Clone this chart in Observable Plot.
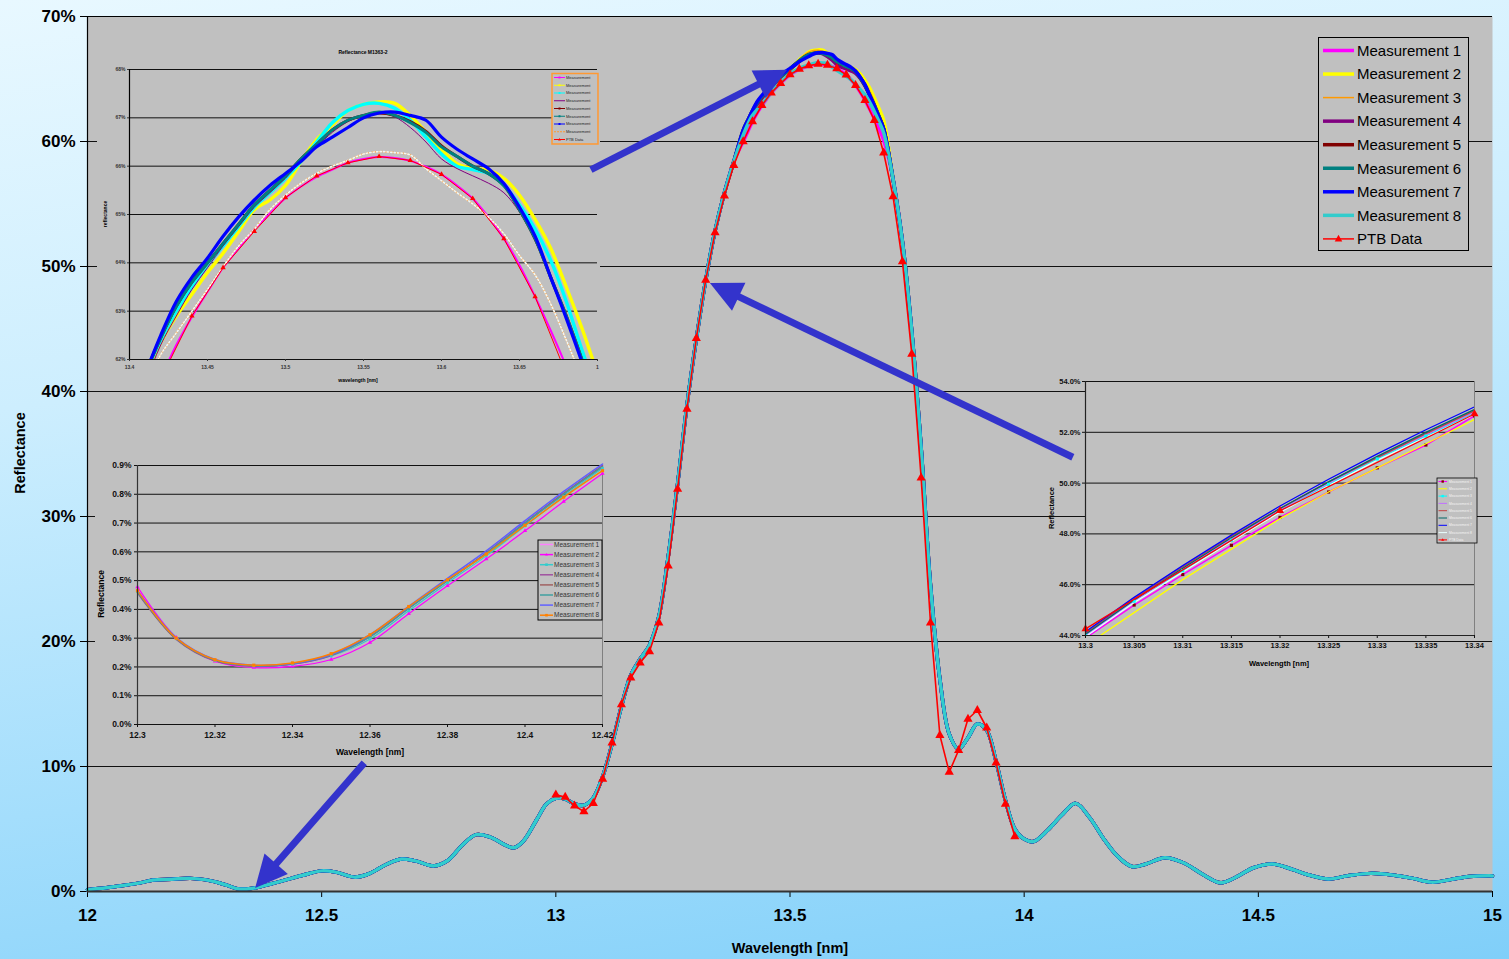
<!DOCTYPE html>
<html><head><meta charset="utf-8">
<script src="https://cdn.jsdelivr.net/npm/d3@7"></script>
<script src="https://cdn.jsdelivr.net/npm/@observablehq/plot@0.6"></script>
<style>
body{margin:0;}
#wrap{position:relative;width:1509px;height:959px;overflow:hidden;background:linear-gradient(172deg,#e8f8ff 0%,#cdeefe 35%,#a4defc 70%,#80cff9 100%);}
.abs{position:absolute;line-height:0;}
</style></head><body><div id="wrap"></div>
<script>
// ---------------- DATA ----------------
const xTicksMain = [12, 12.5, 13, 13.5, 14, 14.5, 15];
const yTicksMain = [0, 10, 20, 30, 40, 50, 60, 70];
const mainNames = ["Measurement 1","Measurement 2","Measurement 3","Measurement 4","Measurement 5","Measurement 6","Measurement 7","Measurement 8"];
const ptbName = "PTB Data";

// common part of all measurements (wavelength nm, reflectance %)
const wlLow = [12.00,12.04,12.08,12.12,12.14,12.18,12.22,12.25,12.28,12.30,12.32,12.34,12.36,12.38,12.40,12.42,12.46,12.50,12.53,12.57,12.60,12.64,12.67,12.70,12.74,12.77,12.80,12.83,12.86,12.89,12.91,12.93,12.96,12.98,13.00,13.02,13.04,13.06,13.08,13.10,13.12,13.14,13.16,13.18,13.20,13.22,13.24,13.26,13.28,13.30,13.32,13.34,13.36,13.38];
const reflLow = [0.15,0.3,0.5,0.75,0.92,0.98,1.05,0.95,0.7,0.47,0.22,0.2,0.3,0.49,0.69,0.89,1.3,1.65,1.55,1.15,1.4,2.2,2.6,2.45,2.05,2.5,3.7,4.55,4.35,3.75,3.5,4.0,5.8,7.0,7.45,7.4,7.0,6.9,7.5,9.2,11.8,14.8,17.3,18.6,19.7,22.0,26.8,32.6,38.9,44.2,48.9,52.85,55.9,58.4];

// peak region, per measurement
const wlPeak = [13.40,13.41,13.42,13.43,13.44,13.45,13.46,13.47,13.48,13.49,13.50,13.51,13.52,13.53,13.54,13.55,13.56,13.57,13.58,13.59,13.60,13.61,13.62,13.63,13.64,13.65,13.66,13.67,13.68,13.69,13.70];
const m1Peak = [60.0,60.8,61.6,62.3,62.88,63.4,63.9,64.3,64.69,65.02,65.34,65.58,65.78,65.93,66.07,66.15,66.19,66.17,66.11,65.99,65.83,65.6,65.33,64.95,64.5,63.95,63.3,62.6,61.85,61.0,60.1];
const m2Peak = [60.8,61.6,62.35,62.9,63.35,63.8,64.2,64.65,65.1,65.3,65.6,66.1,66.55,66.85,67.15,67.28,67.33,67.3,67.05,66.7,66.35,66.05,65.95,65.92,65.75,65.4,64.9,64.3,63.5,62.65,61.7];
const m3Peak = [60.9,61.7,62.4,63.0,63.5,63.95,64.35,64.75,65.15,65.45,65.75,66.1,66.5,66.9,67.15,67.28,67.3,67.2,66.95,66.6,66.25,66.0,65.93,65.85,65.6,65.2,64.7,64.05,63.2,62.2,61.3];
const m4Peak = [60.7,61.5,62.3,62.9,63.45,63.9,64.35,64.75,65.15,65.45,65.75,66.1,66.4,66.7,66.92,67.05,67.1,67.02,66.8,66.5,66.15,65.95,65.8,65.65,65.45,65.05,64.45,63.7,62.85,61.95,61.0];
const m5Peak = [60.9,61.7,62.45,63.1,63.6,64.0,64.4,64.8,65.2,65.5,65.8,66.15,66.45,66.75,66.95,67.05,67.1,67.05,66.92,66.72,66.42,66.2,66.0,65.85,65.6,65.1,64.5,63.7,62.9,62.0,61.0];
const m6Peak = [60.9,61.7,62.45,63.1,63.6,64.0,64.4,64.8,65.2,65.5,65.8,66.15,66.45,66.75,66.95,67.05,67.12,67.05,66.9,66.7,66.4,66.2,66.0,65.85,65.6,65.1,64.5,63.7,62.9,62.0,61.0];
const m7Peak = [60.9,61.7,62.5,63.2,63.7,64.1,64.55,64.95,65.3,65.6,65.85,66.1,66.4,66.6,66.8,67.0,67.1,67.12,67.05,66.95,66.6,66.35,66.15,65.95,65.64,65.15,64.55,63.7,62.85,61.95,61.0];
const m8Peak = [60.5,61.4,62.1,62.55,63.0,63.45,63.92,64.35,64.7,65.1,65.4,65.65,65.85,66.0,66.12,66.25,66.3,66.28,66.23,65.95,65.7,65.45,65.22,64.95,64.6,64.15,63.75,63.15,62.4,61.6,60.7];

// common tail
const wlHigh = [13.72,13.74,13.76,13.78,13.80,13.82,13.84,13.86,13.88,13.90,13.92,13.94,13.96,13.98,14.00,14.02,14.05,14.08,14.11,14.14,14.17,14.20,14.23,14.26,14.30,14.34,14.38,14.42,14.45,14.49,14.53,14.57,14.61,14.65,14.69,14.74,14.79,14.83,14.87,14.91,14.95,15.00];
const reflHigh = [57.0,52.0,44.8,35.5,24.5,17.0,12.6,11.4,12.3,13.4,12.9,10.4,7.3,5.0,4.2,4.0,4.9,6.1,7.05,5.9,4.2,2.8,2.0,2.2,2.7,2.3,1.4,0.7,1.1,1.9,2.2,1.8,1.3,1.0,1.25,1.45,1.3,1.05,0.75,0.95,1.2,1.25];

// PTB data
const wlPTB = [13.00,13.02,13.04,13.06,13.08,13.10,13.12,13.14,13.16,13.18,13.20,13.22,13.24,13.26,13.28,13.30,13.32,13.34,13.36,13.38,13.40,13.42,13.44,13.46,13.48,13.50,13.52,13.54,13.56,13.58,13.60,13.62,13.64,13.66,13.68,13.70,13.72,13.74,13.76,13.78,13.80,13.82,13.84,13.86,13.88,13.90,13.92,13.94,13.96,13.98];
const reflPTB = [7.74,7.55,6.85,6.4,7.06,9.0,11.9,14.96,17.1,18.3,19.2,21.5,26.06,32.2,38.6,44.26,48.91,52.72,55.65,58.1,60.0,61.6,62.9,63.9,64.65,65.35,65.8,66.07,66.2,66.12,65.83,65.33,64.5,63.3,61.7,59.1,55.6,50.4,43.0,33.1,21.5,12.5,9.55,11.3,13.8,14.5,13.1,10.3,7.0,4.4];

// inset 2 (12.30 - 12.42 nm)
const wlIns2 = [12.30,12.31,12.32,12.33,12.34,12.35,12.36,12.37,12.38,12.39,12.40,12.41,12.42];
const i2m1 = [0.470,0.300,0.220,0.200,0.208,0.238,0.305,0.404,0.500,0.594,0.700,0.803,0.900];
const i2m2 = [0.478,0.302,0.220,0.198,0.202,0.226,0.285,0.385,0.482,0.575,0.673,0.775,0.872];
const i2m3 = [0.462,0.298,0.222,0.203,0.209,0.238,0.297,0.395,0.492,0.586,0.690,0.793,0.890];
const i2m4 = [0.458,0.296,0.221,0.202,0.210,0.240,0.305,0.404,0.500,0.595,0.700,0.802,0.898];
const i2m5 = [0.460,0.297,0.222,0.203,0.211,0.241,0.306,0.405,0.501,0.596,0.701,0.803,0.899];
const i2m6 = [0.461,0.298,0.223,0.204,0.211,0.241,0.305,0.404,0.500,0.594,0.699,0.800,0.895];
const i2m7 = [0.466,0.302,0.226,0.206,0.212,0.243,0.312,0.410,0.508,0.603,0.708,0.810,0.905];
const i2m8 = [0.465,0.300,0.225,0.206,0.214,0.246,0.312,0.410,0.503,0.592,0.692,0.790,0.882];
const ins2XTicks = [12.3,12.32,12.34,12.36,12.38,12.4,12.42];
const ins2YTicks = [0,0.1,0.2,0.3,0.4,0.5,0.6,0.7,0.8,0.9];

// inset 3 (13.30 - 13.34 nm)
const wlIns3 = [13.300,13.305,13.310,13.315,13.320,13.325,13.330,13.335,13.340];
const i3m1 = [43.9,45.2,46.4,47.55,48.65,49.65,50.6,51.5,52.65];
const i3m2 = [43.6,44.9,46.2,47.4,48.6,49.65,50.6,51.55,52.5];
const i3m3 = [44.0,45.35,46.55,47.75,48.9,49.95,50.95,51.85,52.75];
const i3m4 = [44.0,45.35,46.6,47.8,48.95,50.0,51.0,51.9,52.8];
const i3m5 = [44.1,45.45,46.7,47.9,49.0,50.05,51.0,51.95,52.85];
const i3m6 = [44.05,45.4,46.65,47.85,49.0,50.05,51.05,52.0,52.9];
const i3m7 = [44.15,45.5,46.75,47.95,49.1,50.15,51.15,52.1,53.0];
const i3m8 = [43.95,45.3,46.5,47.7,48.85,49.9,50.9,51.8,52.7];
const ins3XTicks = [13.3,13.305,13.31,13.315,13.32,13.325,13.33,13.335,13.34];
const ins3YTicks = [44,46,48,50,52,54];

// inset 1 (13.40 - 13.70 nm)
const ins1XTicks = [13.4,13.45,13.5,13.55,13.6,13.65,13.7];
const ins1YTicks = [62,63,64,65,66,67,68];

// annotation arrows (data units: nm, %)
const arrowFrom = [[13.076,57.7],[14.105,34.7],[12.592,10.25]];
const arrowTo = [[13.495,65.7],[13.330,48.65],[12.359,0.25]];

// ---------------- STYLES ----------------
const F = '"Liberation Sans", Arial, Helvetica, sans-serif';
const mainColors = ["#ff00ff","#ffff00","#ff9900","#800080","#800000","#008080","#0000ff","#33cccc"];
const mainWidths = [3.5,3.5,1.5,3.5,3.5,3.5,3.5,3.5];
const peakSets = [m1Peak,m2Peak,m3Peak,m4Peak,m5Peak,m6Peak,m7Peak,m8Peak];

const rows = (xs, ys) => xs.map((x,i)=>({x, y: ys[i]}));
const mainRows = p => [...rows(wlLow, reflLow), ...rows(wlPeak, p), ...rows(wlHigh, reflHigh)];
const ptbRows = rows(wlPTB, reflPTB);

const wrap = document.getElementById("wrap");
function place(el, left, top){ const d=document.createElement("div"); d.className="abs"; d.style.left=left+"px"; d.style.top=top+"px"; d.appendChild(el); wrap.appendChild(d); return d; }

// ---------------- MAIN CHART ----------------
const main = Plot.plot({
  width:1509, height:959, marginLeft:87, marginRight:17, marginTop:16, marginBottom:68,
  style:{background:"transparent", fontFamily:F, fontWeight:"bold", fontSize:"17px", color:"#000"},
  x:{domain:[12,15], label:null},
  y:{domain:[0,70], label:null},
  marks:[
    Plot.frame({fill:"#c0c0c0", stroke:null}),
    Plot.ruleY(yTicksMain.filter(v=>v>0 && v<70), {stroke:"#111", strokeWidth:1.2}),
    Plot.ruleY([70], {stroke:"#000", strokeWidth:1.2}),
    Plot.axisY({ticks:yTicksMain, tickFormat:d=>d+"%", tickSize:7, tickPadding:5, label:null}),
    Plot.axisX({ticks:xTicksMain, tickFormat:d=>String(d), tickSize:6, tickPadding:11, label:null}),
    ...peakSets.map((p,k)=>Plot.line(mainRows(p), {x:"x", y:"y", stroke:mainColors[k], strokeWidth:mainWidths[k], curve:"catmull-rom"})),
    Plot.line(ptbRows, {x:"x", y:"y", stroke:"#ff0000", strokeWidth:1.6}),
    Plot.dot(ptbRows, {x:"x", y:"y", symbol:"triangle", r:3.4, fill:"#ff0000", stroke:null}),
    Plot.ruleX([12], {stroke:"#000", strokeWidth:1.2}),
    Plot.ruleY([0], {stroke:"#333", strokeWidth:2})
  ]
});
place(main, 0, 0);

// ---------------- INSET 1 ----------------
const in1Colors = ["#ff00ff","#ffff00","#00ffff","#800080","#800000","#008080","#0000ff","#ff9933"];
const in1Widths = [2,3.4,3.4,1,3,3,3.2,1.5];
const in1 = Plot.plot({
  width:503, height:348, marginLeft:32, marginRight:3, marginTop:29, marginBottom:29,
  style:{background:"#c0c0c0", fontFamily:F, fontWeight:"bold", fontSize:"5px", color:"#333", overflow:"hidden"},
  x:{domain:[13.4,13.7], label:null},
  y:{domain:[62,68], label:null},
  marks:[
    Plot.ruleY(ins1YTicks, {stroke:"#111", strokeWidth:1}),
    Plot.axisY({ticks:ins1YTicks, tickFormat:d=>d+"%", tickSize:2, tickPadding:2, label:null}),
    Plot.axisX({ticks:ins1XTicks, tickFormat:d=>d===13.7?"1":String(d), tickSize:2, tickPadding:4, label:null}),
    ...peakSets.map((p,k)=>Plot.line(rows(wlPeak,p), {x:"x", y:"y", stroke:in1Colors[k], strokeWidth:in1Widths[k], curve:"catmull-rom", clip:true, strokeDasharray: k===7 ? "4,2" : null})),
    Plot.line(rows(wlPeak,m8Peak), {x:"x", y:"y", stroke:"#eef8f8", strokeWidth:1.6, strokeDasharray:"1.5,2", curve:"catmull-rom", clip:true}),
    Plot.line(ptbRows, {x:"x", y:"y", stroke:"#ff0000", strokeWidth:1, clip:true}),
    Plot.dot(ptbRows.filter(d=>d.y>=62), {x:"x", y:"y", symbol:"triangle", r:2, fill:"#ff0000", stroke:null, clip:true}),
    Plot.ruleX([13.4], {stroke:"#000", strokeWidth:1.2})
  ]
});
place(in1, 97, 40);

// ---------------- INSET 2 ----------------
const i2Sets = [i2m1,i2m2,i2m3,i2m4,i2m5,i2m6,i2m7,i2m8];
const i2Colors = ["#ff80ff","#ff00ff","#33cccc","#a050a0","#a06060","#40a0a0","#6060ff","#ff8000"];
const i2Widths = [1.5,1.2,1.2,1.5,1.5,1.5,1.6,1.5];
const in2 = Plot.plot({
  width:509, height:307, marginLeft:42, marginRight:2, marginTop:10, marginBottom:38,
  style:{background:"#c0c0c0", fontFamily:F, fontWeight:"bold", fontSize:"8.5px", color:"#111", overflow:"visible"},
  x:{domain:[12.3,12.42], label:null},
  y:{domain:[0,0.9], label:null},
  marks:[
    Plot.ruleY(ins2YTicks, {stroke:"#111", strokeWidth:1}),
    Plot.ruleX([12.42], {stroke:"#808080", strokeWidth:1}),
    Plot.axisY({ticks:ins2YTicks, tickFormat:d=>d.toFixed(1)+"%", tickSize:3, tickPadding:3, label:null}),
    Plot.axisX({ticks:ins2XTicks, tickFormat:d=>String(d), tickSize:3, tickPadding:4, label:null}),
    ...i2Sets.map((s,k)=>Plot.line(rows(wlIns2,s), {x:"x", y:"y", stroke:i2Colors[k], strokeWidth:i2Widths[k], curve:"catmull-rom"})),
    Plot.dot(rows(wlIns2,i2m2), {x:"x", y:"y", symbol:"triangle", r:1.6, fill:"#ff00ff", stroke:null}),
    Plot.dot(rows(wlIns2,i2m3), {x:"x", y:"y", symbol:"square", r:1.5, fill:"#33cccc", stroke:null}),
    Plot.dot(rows(wlIns2,i2m8), {x:"x", y:"y", symbol:"square", r:1.8, fill:"#ff8000", stroke:null}),
    Plot.ruleX([12.3], {stroke:"#333", strokeWidth:1.2})
  ]
});
place(in2, 95, 455);

// ---------------- INSET 3 ----------------
const i3Sets = [i3m1,i3m2,i3m3,i3m4,i3m5,i3m6,i3m7,i3m8];
const i3Colors = ["#ff00ff","#ffff00","#00ffff","#c070ff","#c04040","#006666","#0000ff","#e8ffff"];
const ptb3 = ptbRows.filter(d=>d.x>=13.3 && d.x<=13.34);
const in3 = Plot.plot({
  width:450, height:300, marginLeft:45, marginRight:16, marginTop:9, marginBottom:37,
  style:{background:"transparent", fontFamily:F, fontWeight:"bold", fontSize:"7.5px", color:"#111", overflow:"visible"},
  x:{domain:[13.3,13.34], label:null},
  y:{domain:[44,54], label:null},
  marks:[
    Plot.frame({fill:"#c0c0c0", stroke:"#808080"}),
    Plot.ruleY(ins3YTicks, {stroke:"#111", strokeWidth:1}),
    Plot.axisY({ticks:ins3YTicks, tickFormat:d=>d.toFixed(1)+"%", tickSize:3, tickPadding:2, label:null}),
    Plot.axisX({ticks:ins3XTicks, tickFormat:d=>String(d), tickSize:3, tickPadding:4, label:null}),
    Plot.line(rows(wlIns3,i3m1), {x:"x", y:"y", stroke:i3Colors[0], strokeWidth:1.5, clip:true}),
    Plot.dot(rows(wlIns3,i3m1), {x:"x", y:"y", symbol:"square", r:1.8, fill:"#800000", stroke:null, clip:true}),
    ...i3Sets.slice(1).map((s,k)=>Plot.line(rows(wlIns3,s), {x:"x", y:"y", stroke:i3Colors[k+1], strokeWidth:1.3, clip:true})),
    Plot.dot(rows(wlIns3,i3m3), {x:"x", y:"y", symbol:"square", r:1.8, fill:"#00ffff", stroke:null, clip:true}),
    Plot.line(ptb3, {x:"x", y:"y", stroke:"#ff0000", strokeWidth:1.3}),
    Plot.dot(ptb3, {x:"x", y:"y", symbol:"triangle", r:3, fill:"#ff0000", stroke:null}),
    Plot.ruleX([13.3], {stroke:"#222", strokeWidth:1.2}),
    Plot.ruleY([44], {stroke:"#222", strokeWidth:1.2})
  ]
});
place(in3, 1040, 372);

// ---------------- OVERLAY: titles, legends, arrows ----------------
const ov = d3.select(wrap).append("svg").attr("width",1509).attr("height",959)
  .style("position","absolute").style("left","0px").style("top","0px").style("font-family",F);

function txt(x,y,s,size,opts={}){
  const t = ov.append("text").attr("x",x).attr("y",y).attr("font-size",size).attr("font-weight",opts.weight||"bold")
    .attr("fill",opts.fill||"#000").attr("text-anchor",opts.anchor||"middle").attr("dy","0.35em").text(s);
  if (opts.rotate) t.attr("transform",`rotate(-90 ${x} ${y})`);
  return t;
}
// main axis titles
txt(790,948,"Wavelength [nm]",14.5);
txt(20,453,"Reflectance",14.5,{rotate:true});
// inset titles
txt(363,52,"Reflectance M1363-2",5);
txt(358,380,"wavelength [nm]",5);
txt(105,214,"reflectance",5,{rotate:true});
txt(370,752,"Wavelength [nm]",8.5);
txt(101,594,"Reflectance",8.5,{rotate:true});
txt(1279,663,"Wavelength [nm]",7.5);
txt(1051,508,"Reflectance",7.5,{rotate:true});

function tri(cx,cy,s,color){
  ov.append("path").attr("d",`M${cx},${cy-s}L${cx+s*0.9},${cy+s*0.6}L${cx-s*0.9},${cy+s*0.6}Z`).attr("fill",color);
}
function sq(cx,cy,s,color){ ov.append("rect").attr("x",cx-s).attr("y",cy-s).attr("width",2*s).attr("height",2*s).attr("fill",color); }

// main legend
ov.append("rect").attr("x",1318.5).attr("y",37.5).attr("width",150).attr("height",213).attr("fill","#c0c0c0").attr("stroke","#000").attr("stroke-width",1);
[...mainNames, ptbName].forEach((n,i)=>{
  const y = 50.5 + i*23.55;
  const c = i<8 ? mainColors[i] : "#ff0000";
  const w = i<8 ? mainWidths[i] : 1.5;
  ov.append("line").attr("x1",1323).attr("x2",1354).attr("y1",y).attr("y2",y).attr("stroke",c).attr("stroke-width",w);
  if (i===8) tri(1338.5,y,4.2,"#ff0000");
  txt(1357,y,n,15,{weight:"normal",anchor:"start"});
});

// inset 1 legend
ov.append("rect").attr("x",552).attr("y",73.5).attr("width",46).attr("height",70.5).attr("fill","#c0c0c0").attr("stroke","#ff9933").attr("stroke-width",1.5);
[...mainNames.map(()=>"Measurement"), ptbName].forEach((n,i)=>{
  const y = 77.5 + i*7.75;
  const c = i<8 ? in1Colors[i] : "#ff0000";
  ov.append("line").attr("x1",554).attr("x2",565).attr("y1",y).attr("y2",y).attr("stroke",c).attr("stroke-width",1).attr("stroke-dasharray", i===7?"2,1":null);
  if (i===8) tri(559.5,y,1.6,"#ff0000"); else if (i!==3 && i!==7) sq(559.5,y,1,c);
  txt(566,y,n,4,{weight:"normal",anchor:"start",fill:"#222"});
});

// inset 2 legend
ov.append("rect").attr("x",538).attr("y",540).attr("width",64).attr("height",80).attr("fill","#c0c0c0").attr("stroke","#000").attr("stroke-width",1);
mainNames.forEach((n,i)=>{
  const y = 544.5 + i*10.1;
  ov.append("line").attr("x1",540).attr("x2",553).attr("y1",y).attr("y2",y).attr("stroke",i2Colors[i]).attr("stroke-width",1.5);
  if (i===1) tri(546.5,y,1.6,i2Colors[i]);
  if (i===2 || i===7) sq(546.5,y,1.3,i2Colors[i]);
  txt(554,y,n,6.5,{weight:"normal",anchor:"start",fill:"#333"});
});

// inset 3 legend
ov.append("rect").attr("x",1437).attr("y",478).attr("width",40).attr("height",65).attr("fill","#c0c0c0").attr("stroke","#000").attr("stroke-width",0.8);
[...mainNames, ptbName].forEach((n,i)=>{
  const y = 481.5 + i*7.3;
  const c = i<8 ? i3Colors[i] : "#ff0000";
  ov.append("line").attr("x1",1438.5).attr("x2",1447).attr("y1",y).attr("y2",y).attr("stroke",c).attr("stroke-width",1);
  if (i===0) sq(1442.7,y,1.2,"#800000");
  if (i===2) sq(1442.7,y,1.2,"#00ffff");
  if (i===8) tri(1442.7,y,1.6,"#ff0000");
  txt(1449,y,n,3.3,{weight:"normal",anchor:"start",fill:"#f4f4f4"});
});

// arrows
const sx = main.scale("x"), sy = main.scale("y");
arrowFrom.forEach((f,k)=>{
  const t = arrowTo[k];
  const x0=sx.apply(f[0]), y0=sy.apply(f[1]), x1=sx.apply(t[0]), y1=sy.apply(t[1]);
  const dx=x1-x0, dy=y1-y0, len=Math.hypot(dx,dy), ux=dx/len, uy=dy/len;
  const L=32, hw=15.5;
  const bx=x1-ux*L, by=y1-uy*L;
  ov.append("line").attr("x1",x0).attr("y1",y0).attr("x2",bx+ux*3).attr("y2",by+uy*3).attr("stroke","#3333cc").attr("stroke-width",7);
  ov.append("polygon").attr("points",[[x1,y1],[bx-uy*hw,by+ux*hw],[bx+uy*hw,by-ux*hw]].map(p=>p.join(",")).join(" ")).attr("fill","#3333cc");
});
</script></body></html>
